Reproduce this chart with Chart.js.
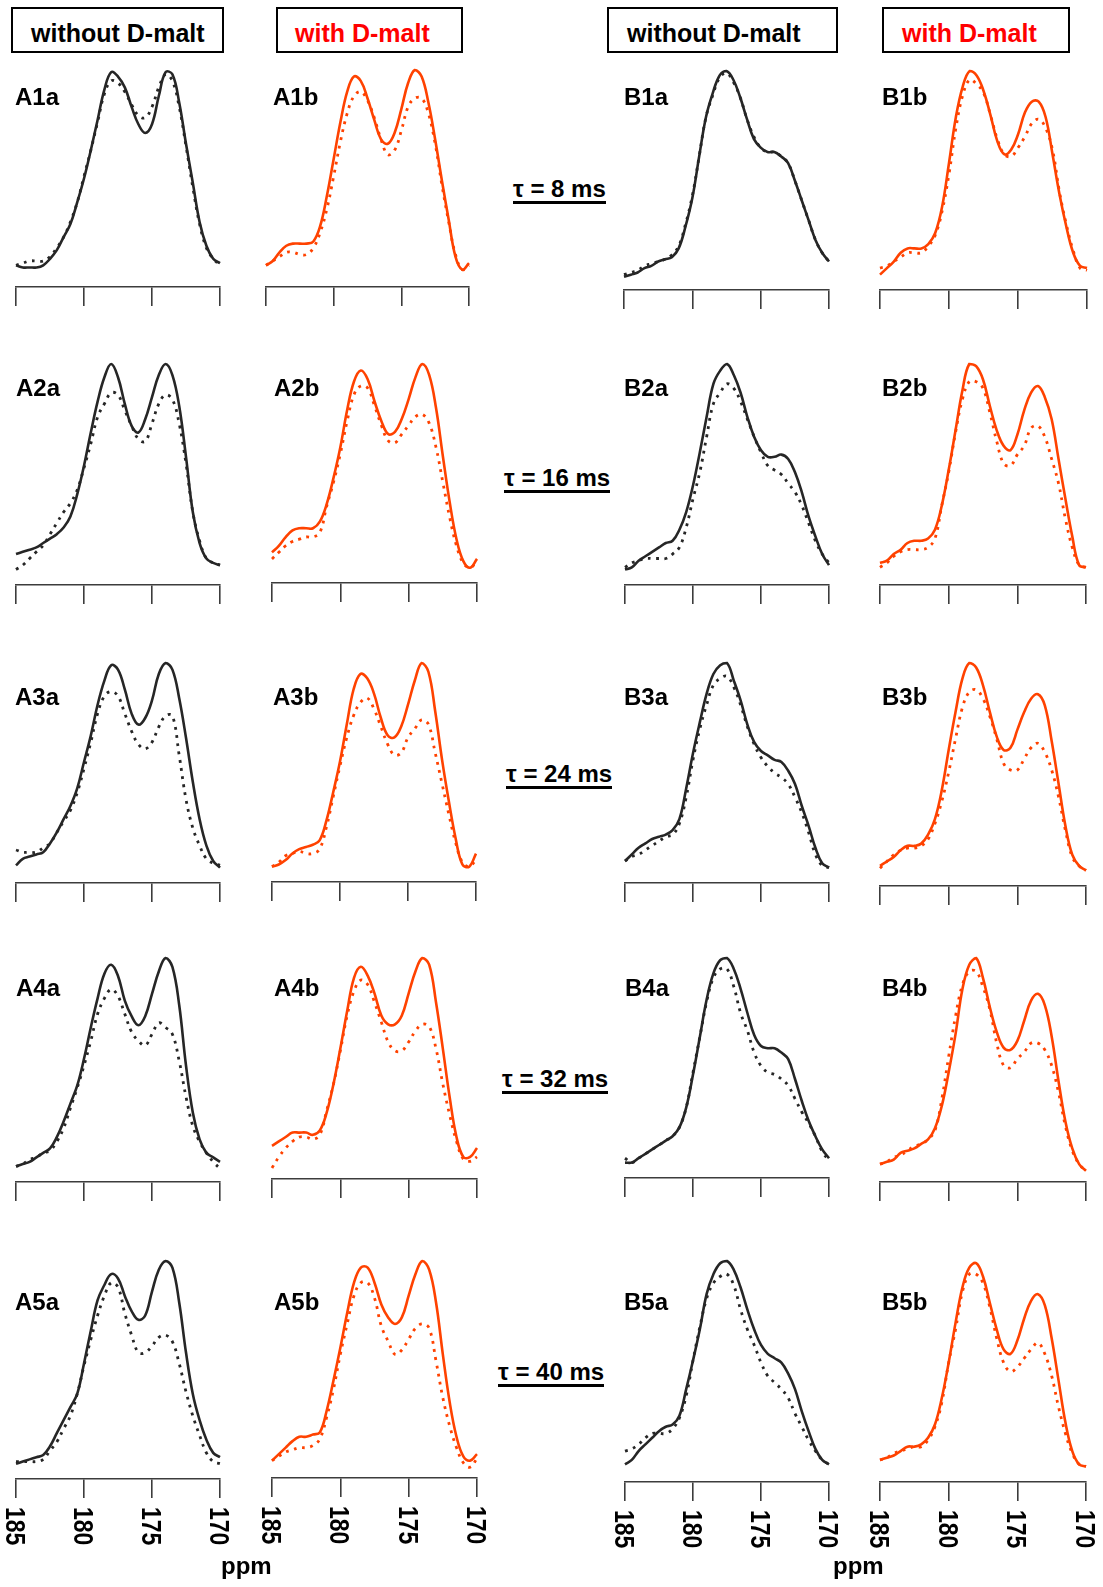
<!DOCTYPE html>
<html>
<head>
<meta charset="utf-8">
<script src="https://cdn.jsdelivr.net/npm/chart.js"></script>
<style>
  html,body{margin:0;padding:0;background:#fff;}
  #page{position:relative;width:1103px;height:1587px;overflow:hidden;font-family:"Liberation Sans",Arial,sans-serif;font-weight:bold;}
  #page canvas{position:absolute;}
  .t{position:absolute;line-height:1;white-space:nowrap;}
  .box{position:absolute;border:2px solid #000;box-sizing:border-box;}
  .tau{border-bottom:3px solid #000;display:inline-block;}
</style>
</head>
<body>
<div id="page"></div>
<script>
// chemical shift grid (ppm) and axis ticks
const ppm = [185,184.5,184,183.5,183,182.5,182,181.5,181,180.5,180,179.5,179,178.5,178,177.5,177,176.5,176,175.5,175,174.5,174,173.5,173,172.5,172,171.5,171,170.5,170];
const ppmTicks = [185,180,175,170];
const tauLabels = ['\u03c4 = 8 ms','\u03c4 = 16 ms','\u03c4 = 24 ms','\u03c4 = 32 ms','\u03c4 = 40 ms'];

// intensities (solid = full, dotted = dephased)
const A1a_solid  = [10,9,9,9,10,13,17,23,29,39,50,63,77,91,99,97,92,83,75,71,75,88,99,98,85,66,48,30,19,13,11];
const A1a_dotted = [10,11,12,12,12,14,18,23,30,39,51,63,76,89,95,94,90,84,79,78,83,92,98,95,83,65,46,29,18,13,10];
const A1b_solid  = [10,12,16,19,20,20,20,21,28,42,59,76,90,97,95,87,77,68,66,71,82,94,100,97,85,68,49,31,14,8,11];
const A1b_dotted = [10,12,14,16,16,15,15,18,25,36,51,67,80,88,90,86,78,68,61,63,72,83,87,87,80,66,47,30,15,8,10];
const B1a_solid  = [6,7,8,10,11,13,14,15,19,29,42,61,79,90,98,100,96,88,78,69,65,63,63,61,58,50,41,32,23,17,13];
const B1a_dotted = [7,8,9,11,12,13,14,16,20,30,43,61,79,89,97,99,95,88,78,70,65,63,63,61,58,50,41,32,23,17,13];
const B1b_solid  = [7,10,13,17,19,19,19,21,26,38,58,79,93,100,98,91,80,68,62,64,71,81,86,86,79,62,44,29,17,11,10];
const B1b_dotted = [10,11,13,15,17,17,17,20,25,36,53,74,89,96,94,90,80,69,62,61,65,70,76,78,74,64,45,30,18,10,9];

const A2a_solid  = [14,15,16,17,19,21,23,26,31,41,54,69,83,94,100,94,82,72,69,75,85,95,100,95,81,58,33,19,12,10,9];
const A2a_dotted = [7,9,12,15,18,23,28,33,37,43,53,64,76,82,87,86,79,72,66,65,73,82,86,84,73,55,33,20,12,10,9];
const A2b_solid  = [14,17,21,24,25,25,25,28,36,48,62,79,92,97,93,83,74,68,69,75,84,94,100,95,80,58,37,20,10,7,11];
const A2b_dotted = [11,14,17,19,20,21,21,23,35,46,59,74,86,90,89,81,72,65,64,68,72,76,77,73,62,46,30,17,9,7,10];
const B2a_solid  = [7,8,11,13,15,17,19,20,25,33,45,60,76,91,97,100,95,87,76,67,61,58,58,59,57,51,42,31,22,14,9];
const B2a_dotted = [8,10,11,12,12,12,12,14,17,26,39,51,67,82,87,91,89,83,75,67,60,54,52,50,46,42,36,28,20,14,10];
const B2b_solid  = [10,11,14,16,19,20,20,21,25,36,52,70,88,100,99,93,81,70,63,61,68,79,87,90,85,75,57,39,22,9,8];
const B2b_dotted = [8,10,13,15,16,16,16,17,21,36,51,69,84,92,92,89,78,65,55,54,59,63,71,72,67,57,46,30,17,9,8];

const A3a_solid  = [8,11,12,13,14,18,23,29,35,43,55,67,81,92,99,97,88,77,72,75,83,95,100,97,84,66,46,29,17,10,7];
const A3a_dotted = [15,14,14,14,16,18,23,28,33,41,52,64,77,85,87,85,77,69,63,61,64,71,76,76,58,38,25,17,11,9,8];
const A3b_solid  = [7,8,10,13,15,16,17,19,28,41,55,72,88,95,93,86,75,67,66,71,81,92,100,96,78,56,37,20,8,7,13];
const A3b_dotted = [7,9,12,13,14,13,13,15,25,39,53,66,76,82,84,79,71,63,58,59,66,70,74,72,59,45,31,18,9,7,10];
const B3a_solid  = [10,13,16,18,20,21,22,24,29,43,59,73,86,95,99,100,92,83,72,64,60,58,56,55,51,45,35,26,16,9,7];
const B3a_dotted = [10,12,13,15,17,19,21,22,27,39,56,70,81,90,93,94,89,81,71,63,57,53,50,48,45,39,32,23,13,8,7];
const B3b_solid  = [9,11,13,16,18,18,19,23,30,43,61,78,93,100,98,90,78,67,61,62,70,78,84,86,81,65,46,27,14,9,7];
const B3b_dotted = [8,11,14,16,17,17,18,21,28,38,51,66,80,87,88,84,76,66,55,52,52,57,62,64,60,52,40,25,13,9,7];

const A4a_solid  = [7,8,9,11,13,15,20,27,35,43,55,69,82,93,97,92,81,74,70,74,84,94,100,96,79,52,31,19,13,11,9];
const A4a_dotted = [7,8,10,11,13,14,18,24,33,42,52,63,75,82,86,83,75,67,63,61,66,71,69,66,54,38,25,18,13,9,6];
const A4b_solid  = [15,17,19,21,21,21,20,22,30,43,59,76,91,96,92,84,74,70,70,74,84,94,100,97,80,59,37,19,10,10,14];
const A4b_dotted = [5,10,14,17,19,19,18,20,31,43,58,74,85,90,88,80,71,62,58,58,62,67,70,69,59,43,29,17,9,8,10];
const B4a_solid  = [7,7,9,11,13,15,17,19,23,32,47,64,81,93,99,100,95,86,75,65,60,59,59,57,54,45,35,26,19,13,9];
const B4a_dotted = [9,7,9,11,13,15,17,19,23,32,48,64,80,91,95,95,87,75,67,57,51,48,47,45,42,36,30,25,19,12,8];
const B4b_solid  = [8,9,10,13,14,15,17,19,24,34,49,66,86,97,100,91,78,67,60,59,63,72,81,84,79,65,45,27,15,8,5];
const B4b_dotted = [8,9,11,12,14,16,17,19,23,37,56,74,88,94,94,87,77,62,52,51,55,58,62,62,59,52,40,25,14,8,5];

const A5a_solid  = [7,8,9,10,11,15,21,27,33,39,53,68,82,89,94,92,84,77,73,75,86,96,100,97,81,58,39,27,18,12,10];
const A5a_dotted = [8,8,8,8,9,13,17,23,29,39,52,64,75,84,90,88,76,66,58,58,61,65,66,63,53,40,29,20,12,8,7];
const A5b_solid  = [8,11,14,17,19,19,20,21,31,45,60,76,90,97,97,90,80,74,71,74,84,94,100,96,81,57,35,19,10,8,11];
const A5b_dotted = [8,10,12,13,14,14,15,18,28,41,57,71,84,90,90,83,70,63,57,59,64,69,71,69,54,37,24,14,7,5,9];
const B5a_solid  = [8,10,14,17,20,23,25,26,30,42,55,69,85,94,99,100,96,88,78,69,62,58,56,54,49,42,32,23,15,10,8];
const B5a_dotted = [14,15,17,20,22,22,22,24,29,39,55,70,83,90,93,94,89,78,69,62,54,48,45,42,38,31,25,19,14,10,8];
const B5b_solid  = [10,11,12,14,16,16,17,20,26,38,54,72,88,97,99,93,81,69,60,58,64,74,82,85,80,65,46,27,14,8,7];
const B5b_dotted = [10,11,13,14,15,16,16,19,25,36,54,69,86,94,94,90,79,65,54,50,52,56,60,63,58,48,34,22,13,8,7];

const DARK = '#262626', ORANGE = '#ff4200', AXIS = '#3c3c3c';
const TICK = 19;

// layout: x of 185 / 170 ppm, y of top peak / axis line
const panels = [
  {id:'A1a', s:A1a_solid, d:A1a_dotted, c:DARK,   x0:16,  x1:220,  top:70,   axis:287,  lx:15,  ly:105},
  {id:'A1b', s:A1b_solid, d:A1b_dotted, c:ORANGE, x0:266, x1:469,  top:70,   axis:287,  lx:273, ly:105},
  {id:'B1a', s:B1a_solid, d:B1a_dotted, c:DARK,   x0:624, x1:829,  top:71,   axis:290,  lx:624, ly:105},
  {id:'B1b', s:B1b_solid, d:B1b_dotted, c:ORANGE, x0:880, x1:1087, top:71,   axis:290,  lx:882, ly:105},
  {id:'A2a', s:A2a_solid, d:A2a_dotted, c:DARK,   x0:16,  x1:220,  top:364,  axis:585,  lx:16,  ly:396},
  {id:'A2b', s:A2b_solid, d:A2b_dotted, c:ORANGE, x0:272, x1:477,  top:364,  axis:583,  lx:274, ly:396},
  {id:'B2a', s:B2a_solid, d:B2a_dotted, c:DARK,   x0:625, x1:829,  top:364,  axis:585,  lx:624, ly:396},
  {id:'B2b', s:B2b_solid, d:B2b_dotted, c:ORANGE, x0:880, x1:1086, top:364,  axis:585,  lx:882, ly:396},
  {id:'A3a', s:A3a_solid, d:A3a_dotted, c:DARK,   x0:16,  x1:220,  top:663,  axis:883,  lx:15,  ly:705},
  {id:'A3b', s:A3b_solid, d:A3b_dotted, c:ORANGE, x0:272, x1:476,  top:663,  axis:882,  lx:273, ly:705},
  {id:'B3a', s:B3a_solid, d:B3a_dotted, c:DARK,   x0:625, x1:829,  top:663,  axis:883,  lx:624, ly:705},
  {id:'B3b', s:B3b_solid, d:B3b_dotted, c:ORANGE, x0:880, x1:1086, top:663,  axis:886,  lx:882, ly:705},
  {id:'A4a', s:A4a_solid, d:A4a_dotted, c:DARK,   x0:16,  x1:220,  top:958,  axis:1182, lx:16,  ly:996},
  {id:'A4b', s:A4b_solid, d:A4b_dotted, c:ORANGE, x0:272, x1:477,  top:958,  axis:1179, lx:274, ly:996},
  {id:'B4a', s:B4a_solid, d:B4a_dotted, c:DARK,   x0:625, x1:829,  top:958,  axis:1178, lx:625, ly:996},
  {id:'B4b', s:B4b_solid, d:B4b_dotted, c:ORANGE, x0:880, x1:1086, top:958,  axis:1182, lx:882, ly:996},
  {id:'A5a', s:A5a_solid, d:A5a_dotted, c:DARK,   x0:16,  x1:220,  top:1261, axis:1479, lx:15,  ly:1310, labels:true},
  {id:'A5b', s:A5b_solid, d:A5b_dotted, c:ORANGE, x0:272, x1:477,  top:1261, axis:1478, lx:274, ly:1310, labels:true},
  {id:'B5a', s:B5a_solid, d:B5a_dotted, c:DARK,   x0:625, x1:829,  top:1261, axis:1482, lx:624, ly:1310, labels:true},
  {id:'B5b', s:B5b_solid, d:B5b_dotted, c:ORANGE, x0:880, x1:1086, top:1261, axis:1482, lx:882, ly:1310, labels:true}
];

const page = document.getElementById('page');

function addText(txt, left, base, size, color, cls) {
  const el = document.createElement('div');
  el.className = 't';
  el.style.left = left + 'px';
  el.style.top = (base - 0.85 * size) + 'px';
  el.style.fontSize = size + 'px';
  el.style.color = color || '#000';
  if (cls) el.innerHTML = '<span class="' + cls + '">' + txt + '</span>';
  else el.textContent = txt;
  page.appendChild(el);
}
function addBox(l, t, w, h) {
  const b = document.createElement('div');
  b.className = 'box';
  Object.assign(b.style, {left: l + 'px', top: t + 'px', width: w + 'px', height: h + 'px'});
  page.appendChild(b);
}

// vertical (clockwise) tick labels under the bottom row
const vertTicks = {
  id: 'vertTicks',
  afterDraw(chart, args, opts) {
    if (!opts.show) return;
    const s = chart.scales.x, ctx = chart.ctx, F = 23;
    ctx.save();
    ctx.font = 'bold ' + F + 'px "Liberation Sans", Arial, sans-serif';
    ctx.fillStyle = '#000';
    ctx.textAlign = 'left';
    ctx.textBaseline = 'alphabetic';
    s.ticks.forEach(t => {
      ctx.save();
      ctx.translate(s.getPixelForValue(t.value), chart.chartArea.bottom + TICK + 9);
      ctx.rotate(Math.PI / 2);
      ctx.scale(1, 1.22);
      ctx.fillText(String(t.value), 0, 0.358 * F);
      ctx.restore();
    });
    ctx.restore();
  }
};

function makePanel(p) {
  const padL = p.labels ? 16 : 6, padR = padL, padT = 8, padB = p.labels ? 56 : 2;
  const cv = document.createElement('canvas');
  cv.width = p.x1 - p.x0 + padL + padR;
  cv.height = padT + (p.axis - p.top) + TICK + padB;
  cv.style.left = (p.x0 - padL) + 'px';
  cv.style.top = (p.top - padT) + 'px';
  page.appendChild(cv);
  const pts = v => ppm.map((x, i) => ({x: x, y: v[i]}));
  new Chart(cv, {
    type: 'line',
    data: {datasets: [
      {data: pts(p.s), borderColor: p.c, borderWidth: 2.6, tension: 0.4, clip: false},
      {data: pts(p.d), borderColor: p.c, borderWidth: 2.8, borderDash: [2.8, 5.5], tension: 0.4, clip: false}
    ]},
    options: {
      responsive: false, animation: false, devicePixelRatio: 1,
      layout: {padding: {left: padL, right: padR, top: padT, bottom: padB}},
      elements: {point: {radius: 0}},
      plugins: {legend: {display: false}, tooltip: {enabled: false}, vertTicks: {show: !!p.labels}},
      scales: {
        x: {type: 'linear', min: 170, max: 185, reverse: true,
            afterBuildTicks: s => { s.ticks = ppmTicks.map(v => ({value: v})); },
            afterFit: s => { s.height = TICK; },
            grid: {drawOnChartArea: false, drawTicks: true, tickLength: TICK, color: AXIS, lineWidth: 1.6},
            border: {display: true, color: AXIS, width: 1.6},
            ticks: {display: false}},
        y: {display: false, min: 0, max: 100}
      }
    },
    plugins: [vertTicks]
  });
  addText(p.id, p.lx, p.ly, 24);
}

// header boxes
addBox(11, 7, 213, 46);   addText('without D-malt', 31, 42, 25);
addBox(276, 7, 187, 46);  addText('with D-malt', 295, 42, 25, '#ff0000');
addBox(607, 7, 231, 46);  addText('without D-malt', 627, 42, 25);
addBox(882, 7, 188, 46);  addText('with D-malt', 902, 42, 25, '#ff0000');

panels.forEach(makePanel);

// delay labels between the A and B blocks
const tauPos = [[513, 197], [504, 486], [506, 782], [502, 1087], [498, 1380]];
tauLabels.forEach((t, i) => addText(t, tauPos[i][0], tauPos[i][1], 24, '#000', 'tau'));

addText('ppm', 221, 1574, 24);
addText('ppm', 833, 1574, 24);
</script>
</body>
</html>
